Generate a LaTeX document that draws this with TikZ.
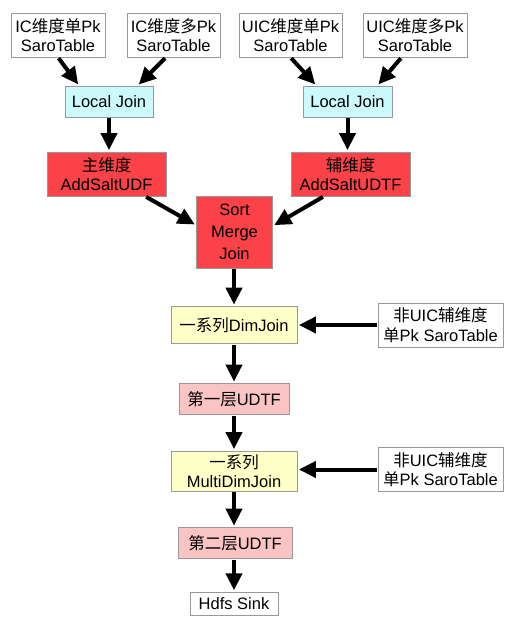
\documentclass[tikz,border=0pt]{standalone}
\usepackage{fontspec}
\setmainfont{Liberation Sans}
\newfontfamily\cjk{Noto Sans CJK SC}
\newcommand{\zh}[1]{{\cjk #1}}
\usetikzlibrary{arrows.meta,shapes}

\begin{document}
\begin{tikzpicture}[x=1pt,y=-1pt]
		
		\definecolor{joincyan}{RGB}{204,250,252}
		\definecolor{saltred}{RGB}{250,66,72}
		\definecolor{dimyellow}{RGB}{255,255,200}
		\definecolor{udtfpink}{RGB}{250,196,196}
		
		\useasboundingbox (0,0) rectangle (515,629);
		
		\tikzstyle{edge} = [draw,-{Triangle[length=17pt,width=16pt]},line width=4pt,shorten <=1pt,shorten >=1.5pt]
		
		\tikzset{box/.style = {shape=rectangle,draw=gray!80,line width=0.8pt,fill=white,inner sep=0pt,align=center,font=\fontsize{16.5}{19.5}\selectfont}}
		\node[box,minimum width=94,minimum height=44] (ic1) at (58,35) {IC\zh{维度单}Pk\\SaroTable};
		\node[box,minimum width=93,minimum height=44] (ic2) at (173.5,35) {IC\zh{维度多}Pk\\SaroTable};
		\node[box,minimum width=103,minimum height=44] (uic1) at (290.5,35) {UIC\zh{维度单}Pk\\SaroTable};
		\node[box,minimum width=104,minimum height=44] (uic2) at (415,35) {UIC\zh{维度多}Pk\\SaroTable};
		\node[box,minimum width=125,minimum height=44] (fei1) at (440.5,325) {\zh{非}UIC\zh{辅维度}\\\zh{单}Pk SaroTable};
		\node[box,minimum width=125,minimum height=44] (fei2) at (440.5,469.5) {\zh{非}UIC\zh{辅维度}\\\zh{单}Pk SaroTable};
		\node[box,minimum width=88,minimum height=23] (sink) at (234,603.7) {Hdfs Sink};
		
		\tikzset{box/.append style = {fill=joincyan}}
		\node[box,minimum width=88,minimum height=31] (lj1) at (109,101.5) {Local Join};
		\node[box,minimum width=89,minimum height=31] (lj2) at (347.5,101.5) {Local Join};
		
		\tikzset{box/.append style = {fill=saltred}}
		\node[box,minimum width=119,minimum height=44] (zhu) at (106.5,174) {\zh{主维度}\\AddSaltUDF};
		\node[box,minimum width=119,minimum height=44] (fu) at (350.5,174) {\zh{辅维度}\\AddSaltUDTF};
		\node[box,minimum width=76,minimum height=72,font=\fontsize{16.5}{22}\selectfont] (smj) at (234.5,232) {Sort\\Merge\\Join};
		
		\tikzset{box/.append style = {fill=dimyellow}}
		\node[box,minimum width=126,minimum height=37] (dj) at (234,325) {\zh{一系列}DimJoin};
		\node[box,minimum width=126,minimum height=40] (mdj) at (234,471) {\zh{一系列}\\MultiDimJoin};
		
		\tikzset{box/.append style = {fill=udtfpink}}
		\node[box,minimum width=110,minimum height=31] (udtf1) at (234,399) {\zh{第一层}UDTF};
		\node[box,minimum width=114,minimum height=31] (udtf2) at (235,543) {\zh{第二层}UDTF};
		
		\draw[edge] (ic1.south) to (lj1.152);
		\draw[edge] (ic2.-109) to (lj1.29);
		\draw[edge] (uic1.south) to (lj2.153);
		\draw[edge] (uic2.-121) to (lj2.28);
		\draw[edge] (lj1.south) to (lj1.south |- zhu.north);
		\draw[edge] (lj2.south) to (lj2.south |- fu.north);
		\draw[edge] (zhu.-30) to (smj.170);
		\draw[edge] (fu.-140) to (smj.9);
		\draw[edge] (dj.north |- smj.south) to (dj.north);
		\draw[edge] (fei1.west) to (fei1.west -| dj.east);
		\draw[edge] (dj.south) to (udtf1.north);
		\draw[edge] (udtf1.south) to (mdj.north);
		\draw[edge] (fei2.west) to (fei2.west -| mdj.east);
		\draw[edge] (mdj.south) to (mdj.south |- udtf2.north);
		\draw[edge] (sink.north |- udtf2.south) to (sink.north);
		\end{tikzpicture}
\end{document}
